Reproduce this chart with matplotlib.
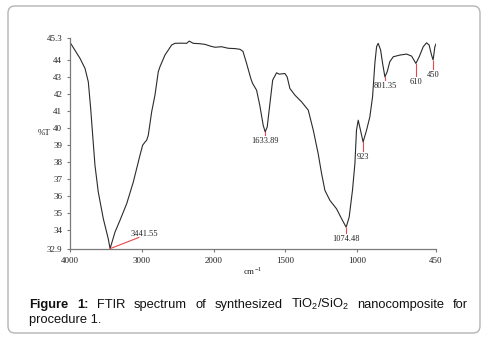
import numpy as np
import matplotlib
matplotlib.use("Agg")
import matplotlib.pyplot as plt
from matplotlib.patches import FancyBboxPatch
from matplotlib.transforms import IdentityTransform

plt.rcParams['mathtext.fontset'] = 'custom'
plt.rcParams['mathtext.rm'] = 'Liberation Serif'
plt.rcParams['mathtext.sf'] = 'Liberation Sans'

# ---- data ----
wavenumber = [4000, 3861, 3791, 3745, 3712, 3684, 3652, 3606, 3536, 3467, 3441.55,
              3373, 3304, 3210, 3118, 3025, 2988, 2950, 2932, 2909, 2862, 2816,
              2770, 2746, 2677, 2584, 2538, 2450, 2375, 2338, 2283, 2200, 2120,
              2040, 1990, 1944, 1898, 1850, 1816, 1795, 1770, 1740, 1728, 1700,
              1677, 1654, 1640, 1626, 1607, 1588, 1561, 1542, 1503, 1487, 1468,
              1433, 1387, 1340, 1305, 1271, 1247, 1224, 1189, 1143, 1108, 1076,
              1055, 1032, 1015, 1004, 992, 976, 958, 934, 911, 892, 876, 864, 853,
              836, 822, 806, 790, 772, 748, 702, 655, 620, 590, 567, 539, 516,
              498, 481, 470, 458, 450]
transmittance = [45.03, 44.09, 43.5, 42.71, 41.15, 39.58, 37.81, 36.24, 34.68, 33.5, 32.92,
                 33.89, 34.58, 35.56, 36.83, 38.4, 38.99, 39.2, 39.28, 39.58, 40.95, 41.93,
                 43.3, 43.6, 44.28, 44.87, 44.97, 44.98, 44.97, 45.1, 44.97, 44.95, 44.91,
                 44.8, 44.74, 44.77, 44.68, 44.66, 44.62, 44.5, 43.8, 42.9, 42.62, 42.22,
                 41.3, 40.16, 39.77, 40.06, 41.44, 42.81, 43.24, 43.16, 43.2, 43.0, 42.32,
                 41.93, 41.54, 41.05, 39.87, 38.5, 37.32, 36.34, 35.75, 35.26, 34.68, 34.18,
                 34.77, 36.34, 37.91, 39.87, 40.46, 39.87, 39.18, 39.87, 40.65, 41.83, 43.79,
                 44.77, 44.97, 44.58, 43.79, 43.0, 43.3, 43.89, 44.18, 44.28, 44.34, 44.22,
                 43.79, 44.18, 44.77, 45.0, 44.87, 44.28, 43.99, 44.77, 44.93]

x_ticks = [4000, 3000, 2000, 1500, 1000, 450]
x_ticklabels = ["4000", "3000", "2000", "1500", "1000", "450"]
y_ticks = [32.9, 34, 35, 36, 37, 38, 39, 40, 41, 42, 43, 44, 45.3]
y_ticklabels = ["32.9", "34", "35", "36", "37", "38", "39", "40", "41", "42", "43", "44", "45.3"]

# peak annotations: label, peak x, peak y
peak_labels = ["1633.89", "1074.48", "923", "801.35", "610", "450"]
peak_x = [1640, 1076, 958, 806, 590, 470]
peak_y = [39.77, 34.18, 39.18, 43.0, 43.79, 43.99]
main_label = "3441.55"
main_x, main_y = 3441.55, 32.92


def fwd(v):
    v = np.asarray(v, dtype=float)
    return np.where(v >= 2000, 3.1 + (v - 2000) / 1000.0, (v - 450) / 500.0)


def inv(p):
    p = np.asarray(p, dtype=float)
    return np.where(p <= 3.1, 450 + 500 * p, 2000 + (p - 3.1) * 1000.0)


W, H = 489, 340
fig = plt.figure(figsize=(W / 100, H / 100), dpi=100)
fig.patch.set_facecolor('white')

ax = fig.add_axes([70 / W, 1 - 249 / H, 366 / W, (249 - 37.7) / H])
ax.set_xscale('function', functions=(fwd, inv))
ax.set_xlim(4000, 450)
ax.set_ylim(32.9, 45.3)

ax.plot(wavenumber, transmittance, color='#2b2b2b', lw=0.8, solid_joinstyle='round')

for s in ['top', 'right']:
    ax.spines[s].set_visible(False)
for s in ['left', 'bottom']:
    ax.spines[s].set_color('#7a7a7a')
    ax.spines[s].set_linewidth(0.9)

serif = 'Liberation Serif'
ax.set_xticks(x_ticks)
ax.set_xticklabels(x_ticklabels, fontsize=6.5, family=serif)
ax.xaxis.set_minor_locator(matplotlib.ticker.NullLocator())
ax.set_yticks(y_ticks)
ax.set_yticklabels(y_ticklabels, fontsize=6.5, family=serif)
ax.tick_params(axis='both', direction='out', length=2.5, width=0.8, color='#7a7a7a',
               labelcolor='#222222', pad=3)

ax.text(-0.071, 0.55, "%T", transform=ax.transAxes, fontsize=6.5, family=serif,
        ha='center', va='center', color='#222222')
ax.text(0.5, -0.105, r"cm$^{\mathrm{-1}}$", transform=ax.transAxes, fontsize=6.5,
        family=serif, ha='center', va='center', color='#222222')

red = '#e8474c'
# main peak with slanted leader
ax.plot([main_x, 3039], [main_y, 33.58], color=red, lw=0.8)
ax.text(3150, 33.55, main_label, fontsize=6, family=serif, ha='left', va='bottom',
        color='#222222')

tick_len = [0.2, 0.35, 0.55, 0.2, 0.75, 0.55]
for lab, px, py, tl in zip(peak_labels, peak_x, peak_y, tick_len):
    ax.plot([px, px], [py - 0.03, py - tl], color=red, lw=0.8)
    ax.text(px, py - tl - 0.08, lab, fontsize=6, family=serif, ha='center', va='top',
            color='#222222')

# frame
box = FancyBboxPatch((8, 7), 472, 327, boxstyle="round,pad=0,rounding_size=7",
                     transform=IdentityTransform(), facecolor='none',
                     edgecolor='#b4b4b4', lw=1.0)
fig.patches.append(box)

# caption (justified first line)
sans = 'Liberation Sans'
fs = 9.3
words = [("Figure", 'bold'), ("1:", 'bold'), ("FTIR", 'normal'), ("spectrum", 'normal'),
         ("of", 'normal'), ("synthesized", 'normal'),
         (r"TiO$_{\mathsf{2}}$/SiO$_{\mathsf{2}}$", 'normal'),
         ("nanocomposite", 'normal'), ("for", 'normal')]
y1 = 1 - 308 / H
y2 = 1 - 323.5 / H
x_left, x_right = 29, 468
txts = [fig.text(0, y1, w, fontsize=fs, family=sans, weight=wt, color='#111111',
                 va='baseline', ha='left') for w, wt in words]
fig.canvas.draw()
rend = fig.canvas.get_renderer()
widths = [t.get_window_extent(rend).width for t in txts]
gap = (x_right - x_left - sum(widths)) / (len(words) - 1)
x = x_left
for t, w in zip(txts, widths):
    t.set_x(x / W)
    x += w + gap
fig.text(x_left / W, y2, "procedure 1.", fontsize=fs, family=sans, color='#111111',
         va='baseline', ha='left')

fig.savefig("out.png", dpi=100)
